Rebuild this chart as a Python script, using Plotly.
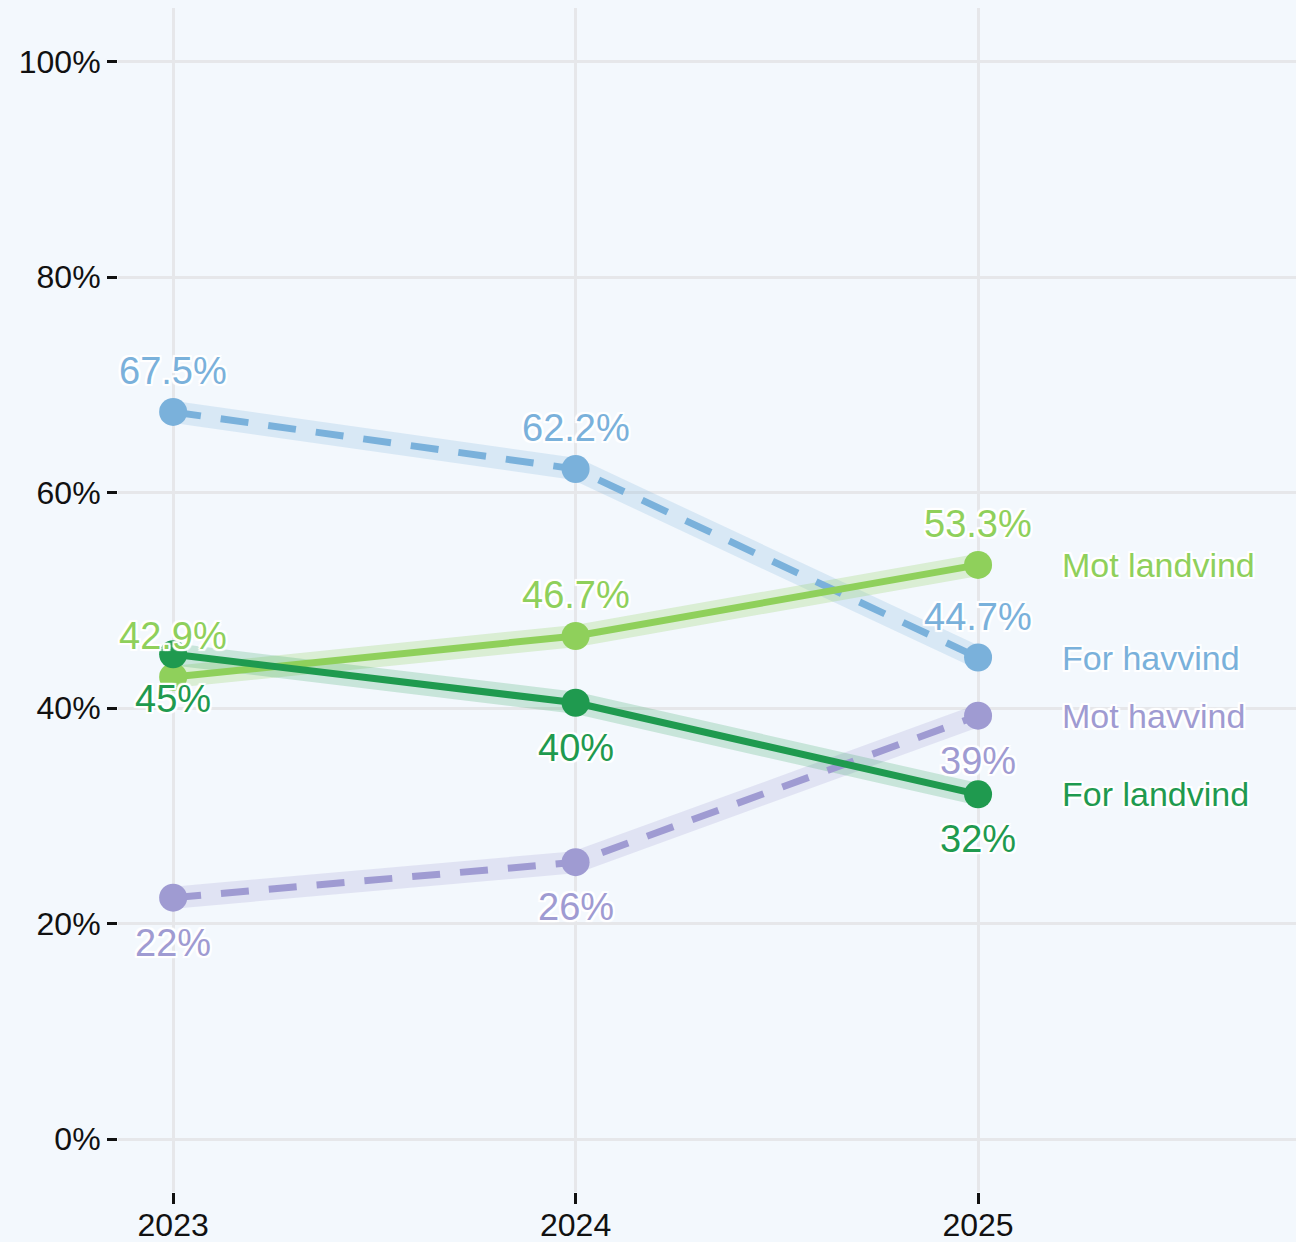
import plotly.graph_objects as go

years = [2023, 2024, 2025]
series_names = ["For havvind", "Mot havvind", "Mot landvind", "For landvind"]
for_havvind = [67.5, 62.2, 44.7]
mot_havvind = [22.4, 25.7, 39.3]
mot_landvind = [42.9, 46.7, 53.3]
for_landvind = [45.0, 40.5, 32.0]
for_havvind_lbl = ["67.5%", "62.2%", "44.7%"]
mot_havvind_lbl = ["22%", "26%", "39%"]
mot_landvind_lbl = ["42.9%", "46.7%", "53.3%"]
for_landvind_lbl = ["45%", "40%", "32%"]
y_ticks = [0, 20, 40, 60, 80, 100]
y_tick_text = ["0%", "20%", "40%", "60%", "80%", "100%"]

colors = {
    "For havvind": "#7ab1db",
    "Mot havvind": "#9f9bd2",
    "Mot landvind": "#8fd05b",
    "For landvind": "#1f9a4f",
}
bands = {
    "For havvind": "rgba(122,177,219,0.22)",
    "Mot havvind": "rgba(159,155,210,0.22)",
    "Mot landvind": "rgba(143,208,91,0.25)",
    "For landvind": "rgba(31,154,79,0.2)",
}
values = {
    "For havvind": for_havvind,
    "Mot havvind": mot_havvind,
    "Mot landvind": mot_landvind,
    "For landvind": for_landvind,
}
labels = {
    "For havvind": for_havvind_lbl,
    "Mot havvind": mot_havvind_lbl,
    "Mot landvind": mot_landvind_lbl,
    "For landvind": for_landvind_lbl,
}
label_above = {"For havvind": True, "Mot havvind": False, "Mot landvind": True, "For landvind": False}
dashed = {"For havvind": True, "Mot havvind": True, "Mot landvind": False, "For landvind": False}

FONT = "Helvetica, Arial, 'Liberation Sans', sans-serif"
HALO = ("white 2px 0px 1px, white -2px 0px 1px, white 0px 2px 1px, white 0px -2px 1px, "
        "white 2px 2px 1px, white -2px -2px 1px, white 2px -2px 1px, white -2px 2px 1px")

fig = go.Figure()
for name in series_names:
    fig.add_trace(go.Scatter(
        x=years, y=values[name], mode="lines",
        line=dict(color=bands[name], width=22),
        hoverinfo="skip", showlegend=False))
for name in series_names:
    fig.add_trace(go.Scatter(
        x=years, y=values[name], mode="lines+markers", name=name,
        line=dict(color=colors[name], width=7, dash="28px,20px" if dashed[name] else "solid"),
        marker=dict(size=28, color=colors[name]),
        showlegend=False))

annotations = []
for name in series_names:
    for x, v, t in zip(years, values[name], labels[name]):
        annotations.append(dict(
            x=x, y=v, text=t, showarrow=False, xanchor="center", yanchor="middle",
            yshift=41 if label_above[name] else -45,
            font=dict(family=FONT, size=38, color=colors[name], shadow=HALO)))
    annotations.append(dict(
        x=years[-1], y=values[name][-1], text=name, showarrow=False,
        xanchor="left", yanchor="middle", xshift=82,
        font=dict(family=FONT, size=34, color=colors[name], shadow=HALO)))

fig.update_layout(
    width=1296, height=1242,
    margin=dict(l=118, r=0, t=8, b=50, autoexpand=False),
    paper_bgcolor="#f3f8fd", plot_bgcolor="#f3f8fd",
    font=dict(family=FONT, size=32, color="#111111"),
    annotations=annotations,
    showlegend=False,
)
fig.update_xaxes(
    range=[2022.863, 2025.79], tickvals=years, ticktext=[str(y) for y in years],
    showgrid=True, gridcolor="#e6e7ea", gridwidth=3, zeroline=False, automargin=False,
    ticks="outside", ticklen=11, tickwidth=3, tickcolor="#111111", ticklabelstandoff=-6,
    showline=False, tickfont=dict(size=32, color="#111111"))
fig.update_yaxes(
    range=[-4.92, 105.0], tickvals=y_ticks, ticktext=y_tick_text,
    showgrid=True, gridcolor="#e6e7ea", gridwidth=3, zeroline=False, automargin=False,
    ticks="outside", ticklen=10, tickwidth=3, tickcolor="#111111",
    showline=False, tickfont=dict(size=32, color="#111111"))

fig.write_html("out.html", config={"displayModeBar": False},
               post_script="document.body.style.margin='0';document.body.style.overflow='hidden';")
